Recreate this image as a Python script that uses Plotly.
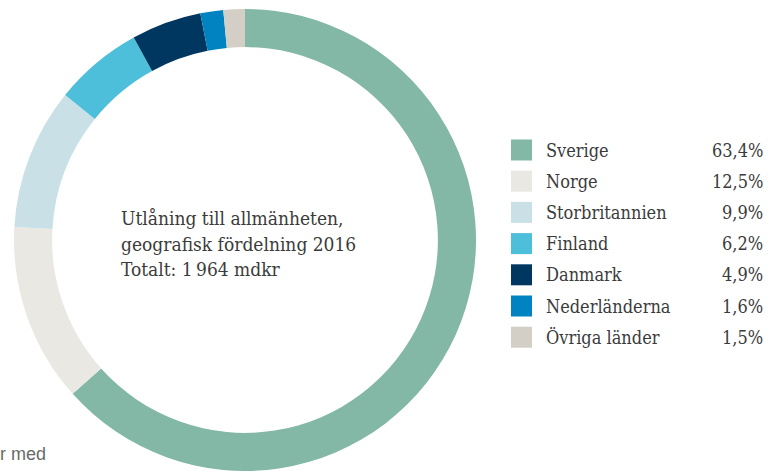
import plotly.graph_objects as go

# Utlåning till allmänheten per land, 2016 (andel av totalen, %)
countries = ["Sverige", "Norge", "Storbritannien", "Finland", "Danmark", "Nederländerna", "Övriga länder"]
shares = [63.4, 12.5, 9.9, 6.2, 4.9, 1.6, 1.5]
share_labels = ["63,4%", "12,5%", "9,9%", "6,2%", "4,9%", "1,6%", "1,5%"]
colors = ["#82b8a5", "#e9e8e3", "#c8e0e6", "#4dbfda", "#003760", "#0083c0", "#d3cec6"]
title_lines = ["Utlåning till allmänheten,", "geografisk fördelning 2016", "Totalt: 1\u2009964 mdkr"]

W, H = 768, 472
SERIF = "DejaVu Serif Condensed, DejaVu Serif, serif"
TEXT_COLOR = "#3b3b3b"

fig = go.Figure()
fig.add_trace(go.Pie(
    labels=countries,
    values=shares,
    sort=False,
    direction="clockwise",
    rotation=0,
    hole=0.835,
    marker=dict(colors=colors, line=dict(width=0)),
    textinfo="none",
    showlegend=False,
    domain=dict(x=[13 / W, 477 / W], y=[1 - 471 / H, 1 - 9 / H]),
))

annotations = []
shapes = []

# Centre caption inside the ring
for i, line in enumerate(title_lines):
    y_px = 218 + i * 25.5
    annotations.append(dict(
        x=119 / W, y=1 - y_px / H, xref="paper", yref="paper",
        xanchor="left", yanchor="middle", showarrow=False,
        text=line, font=dict(family=SERIF, size=19, color=TEXT_COLOR),
    ))

# Legend: colour square, country name, share
for i, (name, lab, col) in enumerate(zip(countries, share_labels, colors)):
    yc = 150 + i * 31.2
    shapes.append(dict(
        type="rect", xref="paper", yref="paper",
        x0=511 / W, x1=532 / W, y0=1 - (yc + 10.5) / H, y1=1 - (yc - 10.5) / H,
        fillcolor=col, line=dict(width=0),
    ))
    annotations.append(dict(
        x=544 / W, y=1 - yc / H, xref="paper", yref="paper",
        xanchor="left", yanchor="middle", showarrow=False,
        text=name, font=dict(family=SERIF, size=18, color=TEXT_COLOR),
    ))
    annotations.append(dict(
        x=765 / W, y=1 - yc / H, xref="paper", yref="paper",
        xanchor="right", yanchor="middle", showarrow=False,
        text=lab, font=dict(family=SERIF, size=18, color=TEXT_COLOR),
    ))

# Footnote fragment at the bottom-left edge
annotations.append(dict(
    x=-2 / W, y=1 - 454 / H, xref="paper", yref="paper",
    xanchor="left", yanchor="middle", showarrow=False,
    text="r med", font=dict(family="Liberation Sans, Arial, sans-serif", size=18, color="#6a6a6a"),
))

fig.update_layout(
    width=W, height=H,
    margin=dict(l=0, r=0, t=0, b=0),
    paper_bgcolor="white",
    plot_bgcolor="white",
    annotations=annotations,
    shapes=shapes,
)

fig.write_html("out.html")
